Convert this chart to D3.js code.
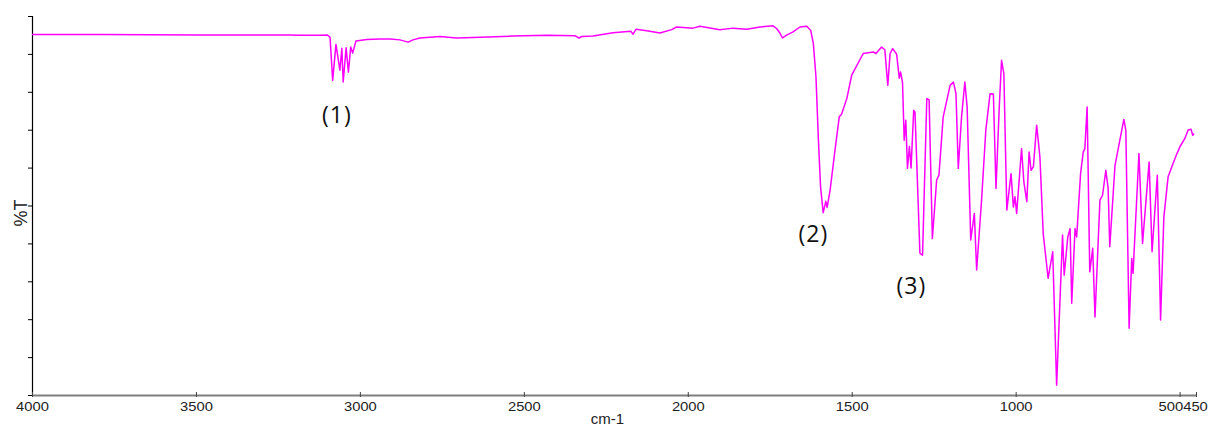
<!DOCTYPE html>
<html>
  <head>
    <meta charset="utf-8">
    <title>IR spectrum</title>
    <script src="https://d3js.org/d3.v7.min.js"></script>
    <style>
      body { margin: 0; background: #fff; }
      text { font-family: "Liberation Sans", Arial, sans-serif; }
      .note { font-family: "Open Sans", "Liberation Sans", sans-serif; }
    </style>
  </head>
<body>
  <script type="text/javascript">
  /*
    Spectrum data (wavenumber in cm-1, %T)
  */
  var wavenumber = [4000, 3793, 3488, 3213, 3183, 3122, 3100, 3091, 3083, 3073,
    3061, 3055, 3051, 3042, 3035, 3028, 3022, 3012, 2979, 2939,
    2908, 2878, 2853, 2838, 2817, 2756, 2705, 2655, 2533, 2430,
    2344, 2332, 2323, 2289, 2228, 2174, 2167, 2158, 2125, 2085,
    2049, 2034, 1984, 1963, 1902, 1862, 1820, 1780, 1740, 1729,
    1719, 1711, 1700, 1679, 1658, 1637, 1625, 1617, 1609, 1602,
    1595, 1587, 1579, 1575, 1566, 1551, 1538, 1531, 1515, 1500,
    1465, 1434, 1426, 1409, 1399, 1390, 1383, 1375, 1363, 1355,
    1351, 1345, 1340, 1335, 1330, 1324, 1319, 1311, 1307, 1292,
    1284, 1271, 1264, 1254, 1241, 1234, 1221, 1200, 1190, 1182,
    1175, 1165, 1155, 1148, 1137, 1126, 1119, 1104, 1091, 1078,
    1068, 1060, 1050, 1043, 1036, 1027, 1014, 1007, 1002, 997,
    982, 975, 966, 959, 953, 946, 936, 926, 916, 901,
    887, 875, 857, 852, 841, 834, 829, 819, 814, 802,
    794, 789, 782, 774, 765, 758, 743, 735, 725, 718,
    713, 697, 670, 664, 654, 646, 642, 633, 624, 613,
    593, 584, 568, 558, 548, 535, 520, 509, 499, 484,
    474, 465, 460, 456];

  var transmittance = [95.1, 95.1, 95.0, 95.0, 94.9, 94.9, 95.0, 94.4, 83.0, 92.5,
    85.7, 91.5, 82.6, 91.6, 85.2, 91.8, 90.2, 93.4, 93.8, 93.9,
    93.9, 93.7, 93.1, 93.7, 94.2, 94.6, 94.2, 94.3, 94.7, 94.9,
    94.8, 94.2, 94.6, 94.7, 95.6, 96.0, 95.2, 96.5, 96.1, 95.5,
    96.4, 97.1, 96.8, 97.3, 96.4, 96.8, 96.5, 97.1, 97.4, 96.7,
    95.5, 94.2, 94.9, 95.8, 97.1, 97.3, 96.2, 92.7, 83.9, 68.1,
    54.9, 48.1, 51.1, 49.5, 54.0, 64.6, 73.4, 74.1, 78.2, 84.4,
    90.1, 90.5, 90.1, 91.8, 91.1, 81.7, 90.1, 91.4, 89.9, 83.6,
    85.2, 82.4, 67.2, 72.5, 59.8, 65.6, 59.9, 75.1, 74.6, 37.4,
    36.9, 78.2, 77.9, 41.3, 56.7, 58.0, 73.4, 81.7, 82.6, 79.5,
    59.8, 73.4, 82.6, 76.0, 40.9, 47.9, 33.0, 51.4, 69.9, 79.5,
    79.4, 54.5, 76.0, 88.3, 84.8, 48.8, 58.4, 49.6, 52.3, 47.9,
    65.0, 56.2, 51.0, 64.1, 59.3, 60.2, 71.2, 62.8, 42.6, 30.8,
    37.8, 2.6, 42.2, 31.6, 41.7, 43.9, 24.2, 43.9, 41.7, 58.4,
    64.1, 65.0, 76.0, 32.5, 38.7, 20.6, 51.4, 52.7, 59.3, 54.5,
    39.1, 60.6, 72.7, 69.9, 17.6, 36.0, 32.1, 47.9, 63.7, 40.0,
    61.5, 37.8, 58.0, 19.8, 47.0, 57.6, 61.1, 63.5, 65.5, 67.7,
    69.9, 70.1, 68.5, 69.0];

  var xTicks = [4000, 3500, 3000, 2500, 2000, 1500, 1000, 500, 450];
  var yTicks = [0, 10, 20, 30, 40, 50, 60, 70, 80, 90, 100];

  var noteLabels = ["(1)", "(2)", "(3)"];
  var noteWn = [3070, 1617, 1318];
  var noteT = [71.7, 40.4, 26.7];

  var W = 1208, H = 427,
      margin = {top: 16, right: 12, bottom: 32, left: 32},
      width = W - margin.left - margin.right,
      height = H - margin.top - margin.bottom;

  var svg = d3.select("body")
    .append("svg")
      .attr("width", W)
      .attr("height", H);

  var g = svg.append("g")
      .attr("transform", "translate(" + margin.left + "," + margin.top + ")");

  var x = d3.scaleLinear().domain([4000, 450]).range([0, width]);
  var y = d3.scaleLinear().domain([0, 100]).range([height, 0]);

  // left axis: ticks only, no labels
  var yAxis = g.append("g")
      .call(d3.axisLeft(y).tickValues(yTicks).tickSize(4).tickFormat(""));
  yAxis.select(".domain").attr("stroke", "#000").attr("stroke-width", 1.2);
  yAxis.selectAll(".tick line").attr("stroke", "#000");

  // bottom axis
  var xAxis = g.append("g")
      .attr("transform", "translate(0," + height + ")")
      .call(d3.axisBottom(x).tickValues(xTicks).tickSize(4).tickSizeOuter(0)
            .tickFormat(d3.format("d")));
  xAxis.select(".domain").attr("stroke", "#7f7f7f").attr("stroke-width", 2);
  xAxis.selectAll(".tick line")
      .attr("stroke", "#444")
      .attr("y1", -3)
      .attr("y2", 2);
  xAxis.selectAll(".tick text")
      .attr("font-size", 12.6)
      .attr("fill", "#222")
      .attr("y", 16)
      .attr("dy", 0)
      .attr("textLength", function(d) { return String(d).length * 8.2; })
      .attr("lengthAdjust", "spacingAndGlyphs");

  // the 500 label is pushed left so it does not run into 450
  var w450 = String(450).length * 8.2;
  xAxis.selectAll(".tick text")
      .filter(function(d) { return d === 500; })
      .attr("text-anchor", "end")
      .attr("x", x(450) - x(500) - 1 - w450 / 2);
  xAxis.selectAll(".tick text")
      .filter(function(d) { return d === 450; })
      .attr("x", -1);

  // axis titles
  svg.append("text")
      .attr("x", margin.left + x(2245))
      .attr("y", 424)
      .attr("text-anchor", "middle")
      .attr("font-size", 15)
      .attr("fill", "#222")
      .text("cm-1");

  svg.append("text")
      .attr("transform", "translate(26.5," + (margin.top + y(48)) + ") rotate(-90)")
      .attr("text-anchor", "middle")
      .attr("font-size", 18)
      .attr("fill", "#222")
      .text("%T");

  // spectrum
  var pts = wavenumber.map(function(d, i) { return [d, transmittance[i]]; });
  var line = d3.line()
      .x(function(d) { return x(d[0]); })
      .y(function(d) { return y(d[1]); });

  g.append("path")
      .datum(pts)
      .attr("fill", "none")
      .attr("stroke", "#ff00ff")
      .attr("stroke-width", 1.5)
      .attr("stroke-linejoin", "round")
      .attr("d", line);

  // peak notes
  g.selectAll(".note")
      .data(noteLabels)
      .enter()
      .append("text")
      .attr("class", "note")
      .attr("x", function(d, i) { return x(noteWn[i]); })
      .attr("y", function(d, i) { return y(noteT[i]); })
      .attr("text-anchor", "middle")
      .attr("font-size", 23)
      .attr("letter-spacing", 1)
      .attr("fill", "#111")
      .text(function(d) { return d; });
  </script>
</body>
</html>
